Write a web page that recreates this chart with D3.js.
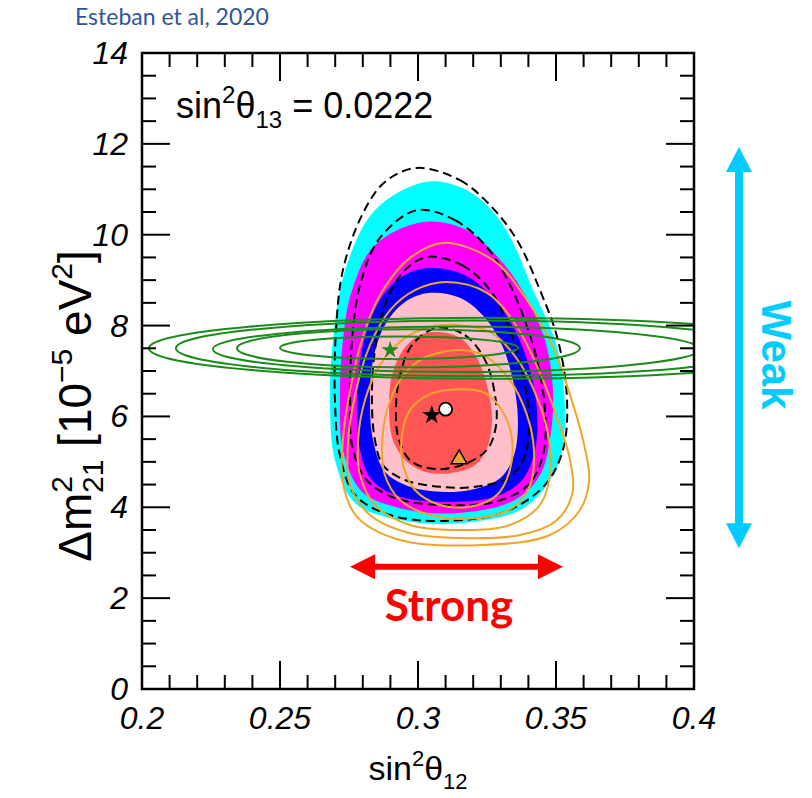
<!DOCTYPE html>
<html>
<head>
<meta charset="utf-8">
<script src="https://cdn.jsdelivr.net/npm/d3@7/dist/d3.min.js"></script>
<style>
  body { margin: 0; background: #fff; }
  svg { display: block; }
</style>
</head>
<body>
<div id="chart"></div>
<script>
// axis ranges and tick labels
var xDomain = [0.2, 0.4];
var yDomain = [0, 14];
var xTickLabels = ["0.2", "0.25", "0.3", "0.35", "0.4"];
var yTickLabels = ["0", "2", "4", "6", "8", "10", "12", "14"];

// filled allowed regions, points as [sin^2 theta12, dm2_21]
var regionCyan = [[0.3025,11.16],[0.3152,11.05],[0.3250,10.65],[0.3330,9.99],[0.3417,8.78],[0.3496,7.68],[0.3529,6.58],[0.3522,5.26],[0.3471,4.53],[0.3370,3.94],[0.3152,3.65],[0.2935,3.72],[0.2772,4.09],[0.2699,5.04],[0.2681,6.36],[0.2692,7.68],[0.2736,9.22],[0.2844,10.54]];
var regionMagenta = [[0.3018,10.28],[0.3170,10.12],[0.3290,9.50],[0.3388,8.67],[0.3460,7.68],[0.3489,6.58],[0.3478,5.48],[0.3442,4.71],[0.3351,4.16],[0.3134,3.87],[0.2935,3.98],[0.2797,4.34],[0.2728,5.26],[0.2717,6.36],[0.2728,7.68],[0.2761,8.78],[0.2844,9.77]];
var regionBlue = [[0.3033,9.27],[0.3170,9.11],[0.3279,8.56],[0.3351,7.90],[0.3406,7.02],[0.3431,6.14],[0.3424,5.26],[0.3377,4.60],[0.3279,4.23],[0.3098,4.12],[0.2935,4.23],[0.2833,4.60],[0.2790,5.26],[0.2779,6.36],[0.2797,7.46],[0.2851,8.45],[0.2935,9.05]];
var regionPink = [[0.3043,8.72],[0.3152,8.61],[0.3243,8.17],[0.3304,7.57],[0.3344,6.80],[0.3362,5.92],[0.3348,5.15],[0.3297,4.64],[0.3188,4.38],[0.3080,4.34],[0.2971,4.45],[0.2880,4.78],[0.2837,5.48],[0.2826,6.36],[0.2837,7.24],[0.2880,8.01],[0.2953,8.52]];
var regionRed = [[0.3062,7.86],[0.3152,7.73],[0.3217,7.24],[0.3254,6.58],[0.3268,5.92],[0.3250,5.30],[0.3207,4.93],[0.3116,4.75],[0.3025,4.78],[0.2953,5.04],[0.2909,5.48],[0.2895,6.14],[0.2906,6.91],[0.2946,7.46],[0.3000,7.77]];

// dashed contours
var dashed1 = [[0.2996,11.47],[0.3152,11.20],[0.3261,10.65],[0.3359,9.88],[0.3442,8.78],[0.3507,7.68],[0.3540,6.36],[0.3525,5.26],[0.3460,4.49],[0.3315,3.90],[0.3098,3.70],[0.2899,3.83],[0.2772,4.27],[0.2717,5.15],[0.2699,6.36],[0.2703,7.90],[0.2728,9.22],[0.2797,10.43],[0.2880,11.16]];
var dashed2 = [[0.2996,10.54],[0.3134,10.32],[0.3243,9.77],[0.3315,9.11],[0.3380,8.23],[0.3431,7.24],[0.3460,6.14],[0.3453,5.15],[0.3399,4.49],[0.3279,4.12],[0.3098,4.05],[0.2917,4.20],[0.2808,4.64],[0.2761,5.37],[0.2754,6.36],[0.2761,7.68],[0.2790,8.89],[0.2862,9.93]];
var dashed3 = [[0.3033,9.51],[0.3159,9.33],[0.3261,8.78],[0.3333,7.90],[0.3384,6.80],[0.3402,5.92],[0.3388,5.15],[0.3333,4.67],[0.3207,4.45],[0.3080,4.45],[0.2953,4.60],[0.2873,4.93],[0.2844,5.48],[0.2833,6.36],[0.2844,7.46],[0.2880,8.45],[0.2946,9.18]];
var dashed4 = [[0.3069,7.95],[0.3170,7.79],[0.3243,7.24],[0.3279,6.47],[0.3283,5.81],[0.3254,5.30],[0.3188,5.00],[0.3080,4.84],[0.2978,5.00],[0.2931,5.48],[0.2920,6.14],[0.2935,6.91],[0.2978,7.57]];

// orange contours
var orange1 = [[0.3091,9.82],[0.3272,9.44],[0.3395,8.56],[0.3489,7.53],[0.3551,6.47],[0.3598,5.48],[0.3620,4.60],[0.3587,3.94],[0.3478,3.39],[0.3236,3.17],[0.2935,3.28],[0.2779,3.79],[0.2728,4.53],[0.2728,5.48],[0.2754,6.58],[0.2808,7.90],[0.2873,8.78],[0.2971,9.49]];
var orange2 = [[0.3105,8.96],[0.3250,8.72],[0.3359,7.97],[0.3442,6.96],[0.3507,5.92],[0.3551,5.04],[0.3558,4.27],[0.3496,3.68],[0.3370,3.39],[0.3188,3.32],[0.2971,3.43],[0.2826,3.83],[0.2754,4.49],[0.2746,5.37],[0.2772,6.47],[0.2826,7.57],[0.2899,8.34],[0.2989,8.78]];
var orange3 = [[0.3141,8.01],[0.3261,7.86],[0.3362,7.24],[0.3435,6.36],[0.3475,5.48],[0.3478,4.71],[0.3442,4.05],[0.3333,3.61],[0.3170,3.50],[0.2971,3.61],[0.2844,4.05],[0.2790,4.71],[0.2783,5.48],[0.2808,6.36],[0.2862,7.13],[0.2953,7.73],[0.3043,7.97]];
var orange4 = [[0.3141,7.46],[0.3243,7.33],[0.3333,6.80],[0.3395,6.03],[0.3420,5.26],[0.3406,4.49],[0.3341,3.98],[0.3207,3.76],[0.3043,3.83],[0.2935,4.16],[0.2880,4.71],[0.2870,5.37],[0.2888,6.14],[0.2935,6.80],[0.3007,7.24]];
var orange5 = [[0.3152,6.60],[0.3243,6.52],[0.3308,6.10],[0.3341,5.48],[0.3333,4.82],[0.3286,4.27],[0.3188,4.01],[0.3080,4.05],[0.2989,4.38],[0.2946,4.93],[0.2942,5.59],[0.2971,6.14],[0.3043,6.49]];

// green ellipses: left end, right end, centre height, half height
var greenLeft = [0.2025, 0.2123, 0.2257, 0.2344, 0.2500];
var greenRight = [0.4493, 0.4275, 0.4022, 0.3587, 0.3362];
var greenCentre = [7.50, 7.50, 7.48, 7.50, 7.51];
var greenHalf = [0.67, 0.61, 0.50, 0.42, 0.25];

// best fit markers
var greenStar = [0.2899, 7.46];
var blackStar = [0.3050, 6.03];
var whiteDot = [0.3100, 6.16];
var orangeTri = [0.3149, 5.06];

// annotation arrows [x1, x2, y] / [x, y1, y2]
var strongArrow = [0.2754, 0.3525, 2.69];
var weakArrow = [0.4163, 11.93, 3.10];

var width = 812, height = 798;
var plotL = 142, plotR = 694, plotT = 53, plotB = 689;

var svg = d3.select("#chart").append("svg")
    .attr("width", width)
    .attr("height", height);

var x = d3.scaleLinear().domain(xDomain).range([plotL, plotR]);
var y = d3.scaleLinear().domain(yDomain).range([plotB, plotT]);

svg.append("defs").append("clipPath").attr("id", "plot-clip")
    .append("rect")
    .attr("x", plotL).attr("y", plotT)
    .attr("width", plotR - plotL).attr("height", plotB - plotT);

var contour = d3.line()
    .x(d => x(d[0]))
    .y(d => y(d[1]))
    .curve(d3.curveCatmullRomClosed.alpha(0.5));

var plot = svg.append("g").attr("clip-path", "url(#plot-clip)");

// filled regions, outer first
var fills = [
    [regionCyan, "#00ffff"],
    [regionMagenta, "#ff00ff"],
    [regionBlue, "#0000ff"],
    [regionPink, "#ffc0cb"],
    [regionRed, "#ff5555"]
];
plot.selectAll(".region")
    .data(fills)
    .join("path")
    .attr("class", "region")
    .attr("d", d => contour(d[0]))
    .attr("fill", d => d[1]);

plot.selectAll(".dashed")
    .data([dashed1, dashed2, dashed3, dashed4])
    .join("path")
    .attr("class", "dashed")
    .attr("d", contour)
    .attr("fill", "none")
    .attr("stroke", "#000")
    .attr("stroke-width", 2)
    .attr("stroke-dasharray", "9,5");

plot.selectAll(".orange")
    .data([orange1, orange2, orange3, orange4, orange5])
    .join("path")
    .attr("class", "orange")
    .attr("d", contour)
    .attr("fill", "none")
    .attr("stroke", "#eea62a")
    .attr("stroke-width", 2);

plot.selectAll(".green")
    .data(d3.range(greenLeft.length))
    .join("ellipse")
    .attr("class", "green")
    .attr("cx", i => (x(greenLeft[i]) + x(greenRight[i])) / 2)
    .attr("cy", i => y(greenCentre[i]))
    .attr("rx", i => (x(greenRight[i]) - x(greenLeft[i])) / 2)
    .attr("ry", i => y(0) - y(greenHalf[i]))
    .attr("fill", "none")
    .attr("stroke", "#1e8a1e")
    .attr("stroke-width", 2);

// markers
svg.append("path")
    .attr("d", d3.symbol(d3.symbolStar, 95)())
    .attr("transform", `translate(${x(greenStar[0])},${y(greenStar[1])})`)
    .attr("fill", "#1e8a1e");
svg.append("path")
    .attr("d", d3.symbol(d3.symbolStar, 115)())
    .attr("transform", `translate(${x(blackStar[0])},${y(blackStar[1])})`)
    .attr("fill", "#000");
svg.append("circle")
    .attr("cx", x(whiteDot[0])).attr("cy", y(whiteDot[1]))
    .attr("r", 6.5)
    .attr("fill", "#fff").attr("stroke", "#000").attr("stroke-width", 1.8);
svg.append("path")
    .attr("d", d3.symbol(d3.symbolTriangle, 110)())
    .attr("transform", `translate(${x(orangeTri[0])},${y(orangeTri[1])})`)
    .attr("fill", "#eea62a").attr("stroke", "#000").attr("stroke-width", 1.5);

// frame and ticks
svg.append("rect")
    .attr("x", plotL).attr("y", plotT)
    .attr("width", plotR - plotL).attr("height", plotB - plotT)
    .attr("fill", "none").attr("stroke", "#000").attr("stroke-width", 2.5);

var isMajor = (v, step) => Math.abs(v / step - Math.round(v / step)) < 1e-6;
var xt = x.ticks(20), yt = y.ticks(28);
var ticks = svg.append("g").attr("stroke", "#000").attr("stroke-width", 2);
xt.forEach(function (v) {
    var len = isMajor(v, 0.05) ? 28 : 14;
    ticks.append("line").attr("x1", x(v)).attr("x2", x(v)).attr("y1", plotB).attr("y2", plotB - len);
    ticks.append("line").attr("x1", x(v)).attr("x2", x(v)).attr("y1", plotT).attr("y2", plotT + len);
});
yt.forEach(function (v) {
    var len = isMajor(v, 2) ? 28 : 14;
    ticks.append("line").attr("y1", y(v)).attr("y2", y(v)).attr("x1", plotL).attr("x2", plotL + len);
    ticks.append("line").attr("y1", y(v)).attr("y2", y(v)).attr("x1", plotR).attr("x2", plotR - len);
});

var tickFont = "'Liberation Sans', Arial, sans-serif";
svg.append("g").selectAll("text")
    .data(xTickLabels)
    .join("text")
    .attr("x", d => x(+d))
    .attr("y", plotB + 40)
    .attr("text-anchor", "middle")
    .attr("font-family", tickFont).attr("font-style", "italic").attr("font-size", 32)
    .text(d => d);
svg.append("g").selectAll("text")
    .data(yTickLabels)
    .join("text")
    .attr("x", plotL - 14)
    .attr("y", d => y(+d) + 11)
    .attr("text-anchor", "end")
    .attr("font-family", tickFont).attr("font-style", "italic").attr("font-size", 32)
    .text(d => d);

// axis titles
var xl = svg.append("text")
    .attr("x", 418).attr("y", 780)
    .attr("text-anchor", "middle")
    .attr("font-family", tickFont).attr("font-size", 34);
xl.append("tspan").text("sin");
xl.append("tspan").attr("dy", -14).attr("font-size", 22).text("2");
xl.append("tspan").attr("dy", 14).text("θ");
xl.append("tspan").attr("dy", 9).attr("font-size", 22).text("12");

var yl = svg.append("text")
    .attr("transform", "translate(91,406) rotate(-90)")
    .attr("text-anchor", "middle")
    .attr("font-family", tickFont).attr("font-size", 46);
yl.append("tspan").text("Δm");
yl.append("tspan").attr("dy", -19).attr("font-size", 30).text("2");
yl.append("tspan").attr("dx", -17).attr("dy", 31).attr("font-size", 30).text("21");
yl.append("tspan").attr("dy", -12).text(" [10");
yl.append("tspan").attr("dy", -19).attr("font-size", 30).text("−5");
yl.append("tspan").attr("dy", 19).text(" eV");
yl.append("tspan").attr("dy", -19).attr("font-size", 30).text("2");
yl.append("tspan").attr("dy", 19).text("]");

// theta13 note
var note = svg.append("text")
    .attr("x", 176).attr("y", 118)
    .attr("font-family", tickFont).attr("font-size", 36);
note.append("tspan").text("sin");
note.append("tspan").attr("dy", -15).attr("font-size", 24).text("2");
note.append("tspan").attr("dy", 15).text("θ");
note.append("tspan").attr("dy", 10).attr("font-size", 24).text("13");
note.append("tspan").attr("dy", -10).text(" = 0.0222");

// source
svg.append("text")
    .attr("x", 75).attr("y", 25)
    .attr("font-family", "Lato, 'Open Sans', sans-serif").attr("font-size", 23)
    .attr("fill", "#2f5597")
    .text("Esteban et al, 2020");

// Strong arrow (horizontal)
var sx1 = x(strongArrow[0]), sx2 = x(strongArrow[1]), sy = y(strongArrow[2]);
var head = 25, hw = 12.5, sw = 3;
svg.append("path")
    .attr("d", `M${sx1},${sy} L${sx1 + head},${sy - hw} L${sx1 + head},${sy - sw} L${sx2 - head},${sy - sw} L${sx2 - head},${sy - hw} L${sx2},${sy} L${sx2 - head},${sy + hw} L${sx2 - head},${sy + sw} L${sx1 + head},${sy + sw} L${sx1 + head},${sy + hw} Z`)
    .attr("fill", "#ff0000");
svg.append("text")
    .attr("x", 449).attr("y", 621)
    .attr("text-anchor", "middle")
    .attr("font-family", "Lato, 'Open Sans', sans-serif").attr("font-weight", "bold").attr("font-size", 44)
    .attr("fill", "#ff0000")
    .text("Strong");

// Weak arrow (vertical)
var wx = x(weakArrow[0]), wy1 = y(weakArrow[1]), wy2 = y(weakArrow[2]);
var whw = 13, wsw = 4;
svg.append("path")
    .attr("d", `M${wx},${wy1} L${wx + whw},${wy1 + head} L${wx + wsw},${wy1 + head} L${wx + wsw},${wy2 - head} L${wx + whw},${wy2 - head} L${wx},${wy2} L${wx - whw},${wy2 - head} L${wx - wsw},${wy2 - head} L${wx - wsw},${wy1 + head} L${wx - whw},${wy1 + head} Z`)
    .attr("fill", "#00ccff");
svg.append("text")
    .attr("transform", "translate(762,355) rotate(90)")
    .attr("text-anchor", "middle")
    .attr("font-family", tickFont).attr("font-weight", "bold").attr("font-size", 42)
    .attr("fill", "#00ccff")
    .text("Weak");
</script>
</body>
</html>
